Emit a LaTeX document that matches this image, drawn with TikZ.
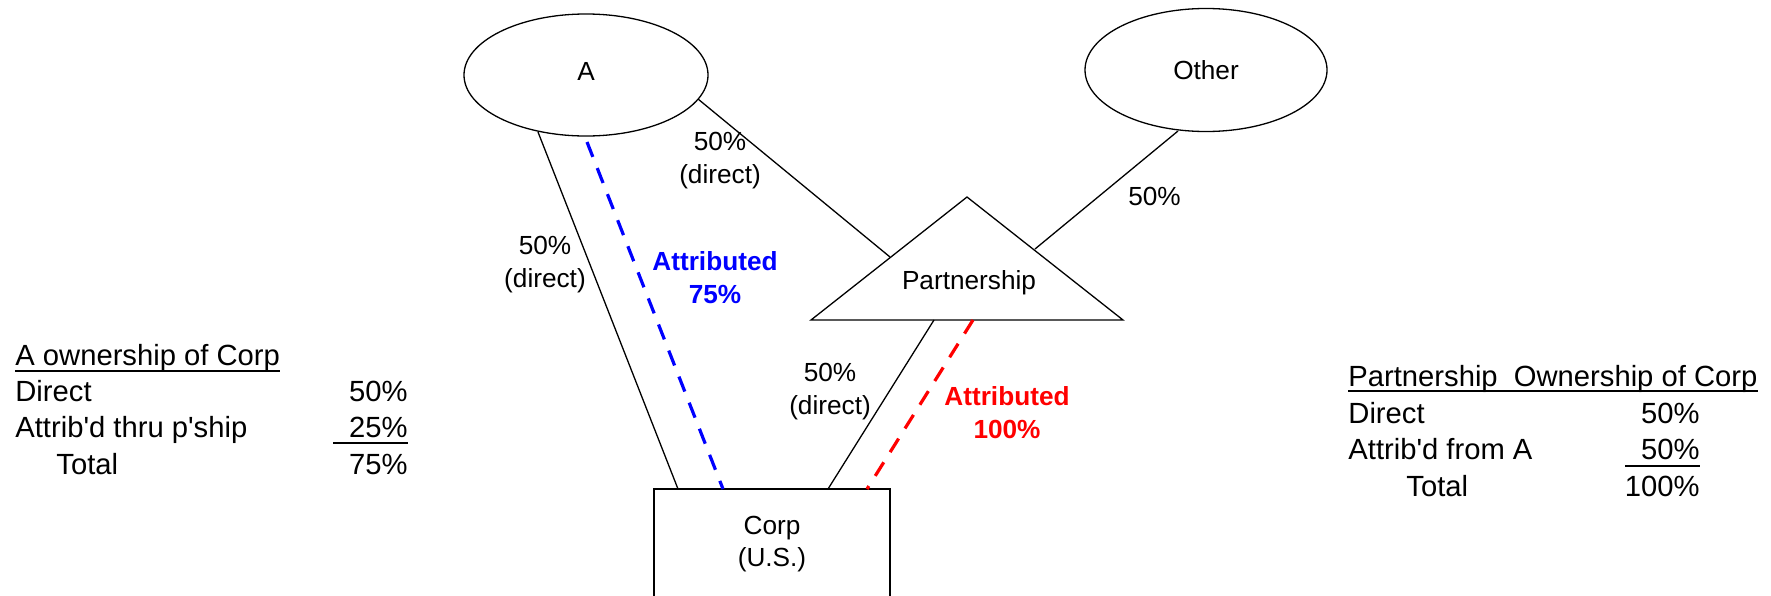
\documentclass[tikz,border=0pt]{standalone}
\usepackage{fontspec}
\setmainfont{Liberation Sans}
\usetikzlibrary{shapes.geometric}
\definecolor{attblue}{RGB}{0,0,255}
\definecolor{attred}{RGB}{255,0,0}
\begin{document}
\begin{tikzpicture}[x=0.5pt,y=-0.5pt,
  lbl/.style={font=\fontsize{13.1}{16.5}\selectfont, align=center, inner sep=0pt},
  attlbl/.style={lbl, font=\fontsize{13.1}{16.5}\selectfont\bfseries},
  tbl/.style={font=\fontsize{14.6}{18}\selectfont, inner sep=0pt},
  ent/.style={draw, ellipse, inner sep=0pt, line width=0.65pt, font=\fontsize{13.1}{16.5}\selectfont},
  own/.style={line width=0.65pt},
  attrb/.style={line width=1.6pt, dash pattern=on 8pt off 6pt},
  rulel/.style={line width=1pt}]
\clip (0,0) rectangle (1771,595);
\fill[white] (0,0) rectangle (1771,595);

% entities
\node[ent, minimum width=122pt, minimum height=61pt, text depth=4pt] (A) at (586,75) {A};
\node[ent, minimum width=121pt, minimum height=61.5pt] (O) at (1206,70) {Other};
\node[draw, line width=0.7pt, minimum width=118pt, minimum height=100pt, inner sep=0pt] (C) at (772,589) {};
\node[lbl, font=\fontsize{13.1}{16}\selectfont] (Ct) at (772,544) {Corp\\(U.S.)};

% partnership triangle
\coordinate (Ptop) at (967,197);
\coordinate (Pbl) at (811,320);
\coordinate (Pbr) at (1123,320);
\draw[own] (Ptop) -- (Pbl) -- (Pbr) -- cycle;
\node[lbl] (P) at (969,282.5) {Partnership};

% attachment points
\coordinate (aC) at (538,132);
\coordinate (aB) at (587,142);
\coordinate (aP) at (698,99);
\coordinate (oP) at (1178,131);
\coordinate (pA) at (890,257);
\coordinate (pO) at (1035,249);
\coordinate (pC) at (934,320);
\coordinate (pR) at (973,320);
\coordinate (cA) at (678,489);
\coordinate (cB) at (723,489);
\coordinate (cP) at (828,489);
\coordinate (cR) at (867,489);

% connectors
\draw[own] (aC) -- (cA);
\draw[own] (aP) -- (pA);
\draw[own] (oP) -- (pO);
\draw[own] (pC) -- (cP);
\draw[attrb, draw=attblue] (aB) -- (cB);
\draw[attrb, draw=attred] (pR) -- (cR);

% labels
\node[lbl] (l1) at (720,161) {50\%\\(direct)};
\node[lbl] (l2) at (545,265) {50\%\\(direct)};
\node[lbl] (l3) at (830,391.5) {50\%\\(direct)};
\node[lbl] (l4) at (1154.5,196.5) {50\%};
\node[attlbl, text=attblue] (l5) at (715,278) {Attributed\\75\%};
\node[attlbl, text=attred] (l6) at (1007,412.5) {Attributed\\100\%};

% left table
\node[tbl, anchor=base west] (th) at (15,365) {A ownership of Corp};
\draw[rulel] (th.south west) -- (th.south east);
\node[tbl, anchor=base west] (t1) at (15,401) {Direct};
\node[tbl, anchor=base east] (v1) at (408,401) {50\%};
\node[tbl, anchor=base west] (t2) at (15,437) {Attrib\textquotesingle d thru p\textquotesingle ship};
\node[tbl, anchor=base east] (v2) at (408,437) {25\%};
\draw[rulel] (333,443) -- (408,443);
\node[tbl, anchor=base west] (t3) at (56,474) {Total};
\node[tbl, anchor=base east] (v3) at (408,474) {75\%};

% right table
\node[tbl, anchor=base west] (rh) at (1348,386) {Partnership\ \ Ownership of Corp};
\draw[rulel] (1348,391) -- (rh.south east |- 1348,391);
\node[tbl, anchor=base west] (r1) at (1348,423) {Direct};
\node[tbl, anchor=base east] (w1) at (1700,423) {50\%};
\node[tbl, anchor=base west] (r2) at (1348,459.5) {Attrib\textquotesingle d from A};
\node[tbl, anchor=base east] (w2) at (1700,459.5) {50\%};
\draw[rulel] (1625,466) -- (1700,466);
\node[tbl, anchor=base west] (r3) at (1406,496) {Total};
\node[tbl, anchor=base east] (w3) at (1700,496) {100\%};
\end{tikzpicture}
\end{document}
